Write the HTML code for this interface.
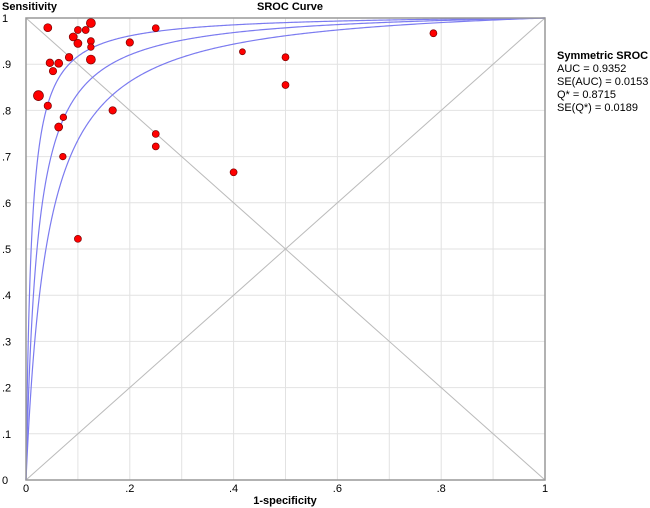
<!DOCTYPE html>
<html><head><meta charset="utf-8"><style>
body{margin:0;background:#fff;}
svg{display:block;font-family:"Liberation Sans",Arial,sans-serif;}
</style></head><body>
<svg id="chart" width="650" height="508">
<text x="2" y="10" font-size="11" font-weight="bold">Sensitivity</text>
<text x="290" y="10" font-size="11" font-weight="bold" text-anchor="middle">SROC Curve</text>
<text x="285" y="504" font-size="11" font-weight="bold" text-anchor="middle">1-specificity</text>
<g font-size="11">
<text x="557" y="59" font-weight="bold">Symmetric SROC</text>
<text x="557" y="72">AUC = 0.9352</text>
<text x="557" y="85">SE(AUC) = 0.0153</text>
<text x="557" y="98">Q* = 0.8715</text>
<text x="557" y="111">SE(Q*) = 0.0189</text>
</g>
<g id="plot"></g>
</svg>
<script>
const xTicks=[0,0.2,0.4,0.6,0.8,1];
const xTickLabels=["0",".2",".4",".6",".8","1"];
const yTicks=[0,0.1,0.2,0.3,0.4,0.5,0.6,0.7,0.8,0.9,1];
const yTickLabels=["0",".1",".2",".3",".4",".5",".6",".7",".8",".9","1"];
const curveD=[3.22,3.83,4.60];
const fpr=[.042,.10,.115,.125,.091,.10,.125,.125,.125,.083,.046,.063,.052,.024,.042,.072,.063,.071,.10,.167,.20,.25,.25,.25,.40,.417,.50,.50,.785];
const tpr=[.979,.974,.974,.989,.959,.945,.95,.937,.91,.915,.903,.902,.885,.832,.81,.785,.764,.70,.522,.80,.947,.978,.749,.722,.666,.927,.915,.855,.967];
const ptSize=[4,3.5,3.5,4.5,4,4,3.5,3.3,4.5,3.8,3.8,4,3.7,5,3.7,3.3,4,3.3,3.5,3.7,3.7,3.5,3.5,3.5,3.5,3,3.5,3.5,3.5];
const X0=26,X1=545,Y0=480,Y1=18;
const sx=v=>X0+v*(X1-X0), sy=v=>Y0-v*(Y0-Y1);
const NS="http://www.w3.org/2000/svg";
const g=document.getElementById('plot');
function mk(t,a,p){const e=document.createElementNS(NS,t);for(const k in a)e.setAttribute(k,a[k]);(p||g).appendChild(e);return e;}
for(let i=1;i<10;i++){const v=i/10;
 const l=mk('line',{x1:sx(v),x2:sx(v),y1:Y1,y2:Y0,stroke:'#e2e2e2','stroke-width':1});
 
 
 const h=mk('line',{x1:X0,x2:X1,y1:sy(v),y2:sy(v),stroke:'#e2e2e2','stroke-width':1});
 
 
}
const d1=mk('line',{x1:sx(0),y1:sy(0),x2:sx(1),y2:sy(1),stroke:'#bbb','stroke-width':1});


const d2=mk('line',{x1:sx(0),y1:sy(1),x2:sx(1),y2:sy(0),stroke:'#bbb','stroke-width':1});


curveD.forEach((D,ci)=>{let pts=[];
 for(let i=0;i<=600;i++){const f=Math.pow(i/600,3);let t;
  if(f<=0)t=0;else t=1/(1+Math.exp(-D)*(1-f)/f);
  pts.push(sx(f).toFixed(2)+','+sy(t).toFixed(2));}
 const c=mk('polyline',{points:pts.join(' '),fill:'none',stroke:'#7b7bf0','stroke-width':1.2});
 
 
});
const fr=mk('rect',{x:X0,y:Y1,width:X1-X0,height:Y0-Y1,fill:'none',stroke:'#999','stroke-width':1.5});


fpr.forEach((f,i)=>{
 const c=mk('circle',{cx:sx(f),cy:sy(tpr[i]),r:ptSize[i],fill:'#ff0000',stroke:'#7a0000','stroke-width':0.7});
 
 
});
xTicks.forEach((v,i)=>{
 const t=mk('text',{x:sx(v),y:492,'font-size':11,'text-anchor':'middle'});t.textContent=xTickLabels[i];
 
 
});
yTicks.forEach((v,i)=>{
 const t=mk('text',{x:2,y:sy(v)+4,'font-size':11});t.textContent=yTickLabels[i];
 
 
});
</script>
</body></html>
